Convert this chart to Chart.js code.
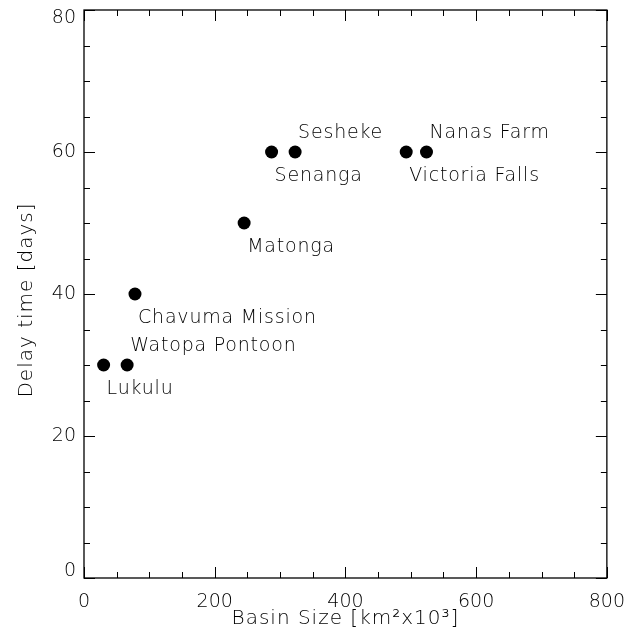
<!DOCTYPE html>
<html>
<head>
<meta charset="utf-8">
<script src="https://cdn.jsdelivr.net/npm/chart.js@4.4.1/dist/chart.umd.min.js"></script>
<style>
html,body{margin:0;padding:0;background:#fff;}
#wrap{width:638px;height:643px;position:relative;}
</style>
</head>
<body>
<div id="wrap"><canvas id="c"></canvas></div>
<script>
// ---- data ----
const stations = ['Lukulu','Watopa Pontoon','Chavuma Mission','Matonga','Senanga','Sesheke','Victoria Falls','Nanas Farm'];
const basinSize = [30, 66, 78, 245, 287, 323, 493, 524];
const delayTime = [30, 30, 40, 50, 60, 60, 60, 60];
const labelSide = ['below','above','below','below','below','above','below','above'];
const xTicks = [0, 200, 400, 600, 800];
const yTicks = [0, 20, 40, 60, 80];
const xTitle = 'Basin Size [km²x10³]';
const yTitle = 'Delay time [days]';

const FONT = '"DejaVu Sans", sans-serif';
const FSIZE = 19;
const TXT = '#000';

const decor = {
  id: 'decor',
  afterDraw(chart) {
    const {ctx, chartArea: a, scales: {x, y}} = chart;
    ctx.save();
    ctx.strokeStyle = '#000';
    ctx.lineWidth = 1.3;
    ctx.strokeRect(a.left, a.top, a.right - a.left, a.bottom - a.top);
    ctx.lineWidth = 1;
    ctx.beginPath();
    for (let v = x.min; v <= x.max + 1e-9; v += 50) {
      const px = Math.round(x.getPixelForValue(v)) + 0.5;
      const len = (v % 200 === 0) ? 11 : 6;
      ctx.moveTo(px, a.bottom); ctx.lineTo(px, a.bottom - len);
      ctx.moveTo(px, a.top); ctx.lineTo(px, a.top + len);
    }
    for (let v = y.min; v <= y.max + 1e-9; v += 5) {
      const py = Math.round(y.getPixelForValue(v)) + 0.5;
      const len = (v % 20 === 0) ? 11 : 6;
      ctx.moveTo(a.left, py); ctx.lineTo(a.left + len, py);
      ctx.moveTo(a.right, py); ctx.lineTo(a.right - len, py);
    }
    ctx.stroke();
    // y tick labels
    ctx.fillStyle = TXT;
    ctx.font = `200 ${FSIZE}px ${FONT}`;
    ctx.textAlign = 'right';
    ctx.textBaseline = 'middle';
    yTicks.forEach(v => {
      let py = y.getPixelForValue(v);
      py = Math.min(Math.max(py, a.top + 8), a.bottom - 7);
      ctx.fillText(String(v), a.left - 8, py);
    });
    // point labels
    ctx.letterSpacing = '0.8px';
    ctx.textAlign = 'left';
    ctx.textBaseline = 'alphabetic';
    stations.forEach((s, i) => {
      const px = x.getPixelForValue(basinSize[i]);
      const py = y.getPixelForValue(delayTime[i]);
      const dy = labelSide[i] === 'below' ? 29 : -14;
      ctx.fillText(s, px + 3, py + dy);
    });
    // axis titles
    ctx.font = `200 20px ${FONT}`;
    ctx.letterSpacing = '1px';
    ctx.textAlign = 'center';
    ctx.fillText(xTitle, (a.left + a.right) / 2, 624);
    ctx.translate(32, (a.top + a.bottom) / 2 + 6);
    ctx.rotate(-Math.PI / 2);
    ctx.fillText(yTitle, 0, 0);
    ctx.restore();
  }
};

new Chart(document.getElementById('c'), {
  type: 'scatter',
  data: {
    datasets: [{
      data: basinSize.map((v, i) => ({x: v, y: delayTime[i]})),
      backgroundColor: '#000',
      borderWidth: 0,
      pointRadius: 6.5,
      pointHoverRadius: 6.5
    }]
  },
  options: {
    responsive: true,
    maintainAspectRatio: false,
    animation: false,
    events: [],
    layout: {padding: {left: 0, right: 31, top: 10, bottom: 0}},
    plugins: {legend: {display: false}, tooltip: {enabled: false}},
    scales: {
      x: {
        type: 'linear', min: 0, max: 800,
        afterBuildTicks: s => { s.ticks = xTicks.map(v => ({value: v})); },
        afterFit: s => { s.height = 65; },
        grid: {display: false, drawTicks: false},
        border: {display: false},
        ticks: {color: TXT, font: {family: FONT, size: FSIZE, weight: 200}, padding: 13, maxRotation: 0},
        title: {display: false}
      },
      y: {
        type: 'linear', min: 0, max: 80,
        afterFit: s => { s.width = 84; },
        grid: {display: false, drawTicks: false},
        border: {display: false},
        ticks: {display: false},
        title: {display: false}
      }
    }
  },
  plugins: [decor]
});
</script>
</body>
</html>
